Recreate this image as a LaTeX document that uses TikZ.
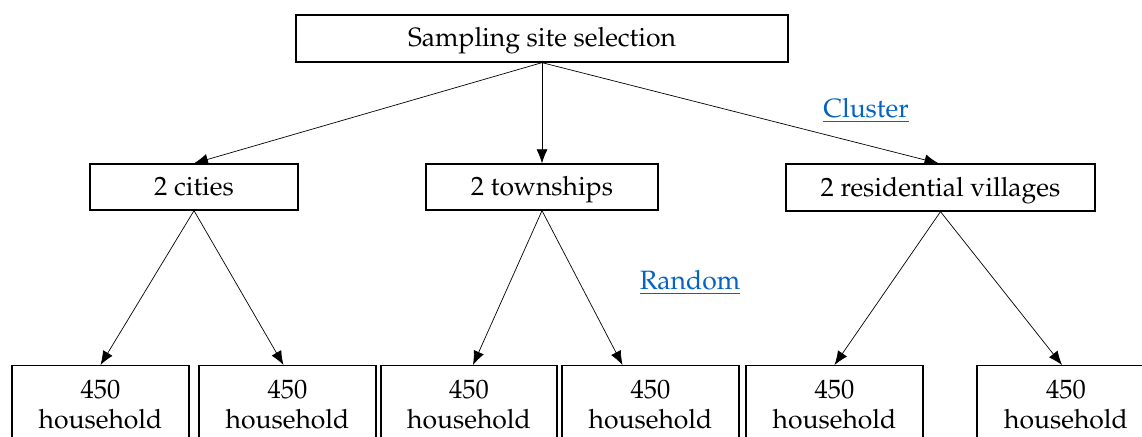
\documentclass[tikz,border=0pt]{standalone}
\usepackage[T1]{fontenc}
\usepackage{mathpazo}
\usetikzlibrary{arrows.meta,calc}
\definecolor{linkblue}{HTML}{0563C1}
\tikzset{
  box/.style={draw=black, line width=1.3pt, rectangle, inner sep=0pt,
    font=\fontsize{26.5}{30}\selectfont, align=center},
  oneline/.style={box, text height=20pt, text depth=3pt},
  leaf/.style={box, anchor=north, minimum width=177pt, minimum height=78pt},
  link/.style={draw=black, line width=0.7pt,
    -{Latex[length=14pt,width=11pt]}},
  tag/.style={text=linkblue, font=\fontsize{26.5}{30}\selectfont}
}
\begin{document}
\begin{tikzpicture}[x=1pt, y=-1pt]
  \useasboundingbox (0,0) rectangle (1142,436);
  \clip (0,0) rectangle (1142,436);

  % level 0
  \node[oneline, minimum width=492pt, minimum height=47pt] (top) at (542,38.5) {Sampling site selection};

  % level 1
  \node[oneline, minimum width=208pt, minimum height=46pt] (cities) at (194,187) {2 cities};
  \node[oneline, minimum width=232pt, minimum height=46pt] (towns) at (542,187) {2 townships};
  \node[oneline, minimum width=309pt, minimum height=47pt] (vill) at (940.5,187.5) {2 residential villages};

  % level 2 (boxes run past the lower edge)
  \node[leaf] (b1) at (100.5,365) {450\\household};
  \node[leaf] (b2) at (287.5,365) {450\\household};
  \node[leaf, minimum width=176pt] (b3) at (469,365) {450\\household};
  \node[leaf] (b4) at (650.5,365) {450\\household};
  \node[leaf] (b5) at (834.5,365) {450\\household};
  \node[leaf, minimum width=178pt] (b6) at (1066,365) {450\\household};

  % connectors
  \draw[link] (top.south) -- (cities.north);
  \draw[link] (top.south) -- (towns.north);
  \draw[link] (top.south) -- ($(vill.north)+(-2,0)$);

  \draw[link] (cities.south) -- (b1.north);
  \draw[link] (cities.south) -- ($(b2.north)+(-4,0)$);
  \draw[link] (towns.south) -- ($(b3.north)+(4,0)$);
  \draw[link] (towns.south) -- ($(b4.north)+(-28,0)$);
  \draw[link] (vill.south) -- (b5.north);
  \draw[link] (vill.south) -- ($(b6.north)+(-4,0)$);

  % sampling labels
  \node[tag] (cluster) at (866,111) {\underline{Cluster}};
  \node[tag] (random) at (690,283) {\underline{Random}};
\end{tikzpicture}
\end{document}
